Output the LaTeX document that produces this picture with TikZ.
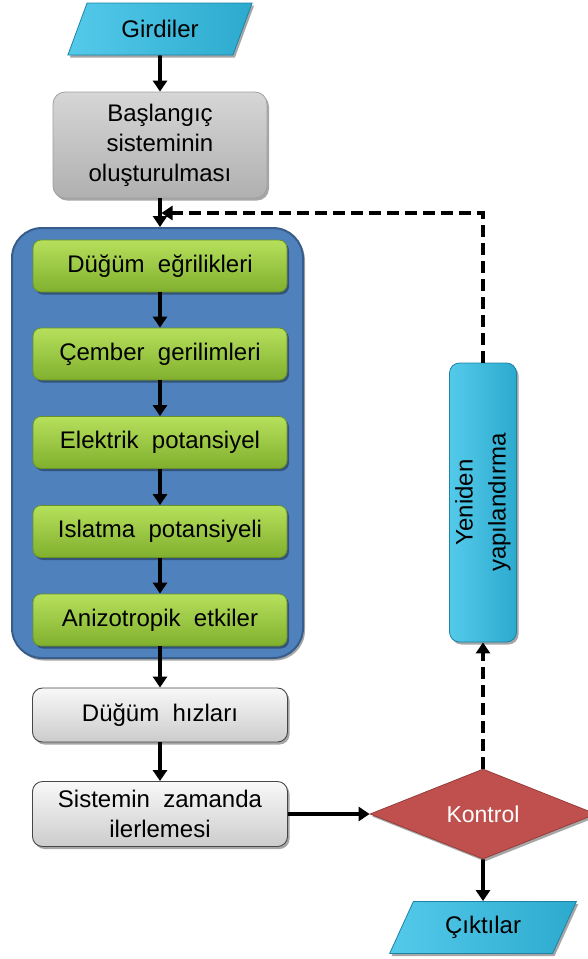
\documentclass[tikz,border=0pt]{standalone}
\usepackage{fontspec}
\setmainfont{Liberation Sans}
\usetikzlibrary{shapes.geometric,arrows.meta,shadows}
\definecolor{cyanL}{RGB}{84,202,234}
\definecolor{cyanD}{RGB}{44,170,206}
\definecolor{cyanB}{RGB}{30,130,165}
\definecolor{greenT}{RGB}{182,224,92}
\definecolor{greenB}{RGB}{128,176,46}
\definecolor{greenE}{RGB}{105,145,40}
\definecolor{blueF}{RGB}{79,129,189}
\definecolor{blueB}{RGB}{56,93,138}
\definecolor{grayT}{RGB}{214,214,214}
\definecolor{grayB}{RGB}{176,176,176}
\definecolor{grayE}{RGB}{160,160,160}
\definecolor{lgT}{RGB}{248,248,248}
\definecolor{lgB}{RGB}{204,204,204}
\definecolor{lgE}{RGB}{70,70,70}
\definecolor{redF}{RGB}{192,80,77}
\definecolor{redB}{RGB}{150,60,58}
\begin{document}
\begin{tikzpicture}[x=1pt,y=-1pt,
  font=\fontsize{24}{30}\selectfont,
  shad/.style={drop shadow={shadow xshift=2pt,shadow yshift=-2.5pt,opacity=0.35,fill=black}},
  base/.style={align=center,inner sep=0pt,text=black,shad},
  iobox/.style={base,trapezium,trapezium left angle=60,trapezium right angle=120,
    trapezium stretches=true,minimum height=52,left color=cyanL,right color=cyanD,
    draw=cyanB,line width=0.8pt},
  greenbox/.style={base,rectangle,rounded corners=8pt,minimum width=254,minimum height=52,
    top color=greenT,bottom color=greenB,draw=greenE,line width=0.8pt},
  graybox/.style={base,rectangle,rounded corners=12pt,top color=grayT,bottom color=grayB,
    draw=grayE,line width=0.8pt},
  lightbox/.style={base,rectangle,rounded corners=10pt,top color=lgT,bottom color=lgB,
    draw=lgE,line width=0.9pt},
  container/.style={rectangle,rounded corners=30pt,fill=blueF,draw=blueB,line width=2pt,shad},
  decision/.style={base,diamond,aspect=2.5,minimum width=226,minimum height=90,
    fill=redF,draw=redB,line width=0.8pt,text=white,font=\fontsize{23}{28}\selectfont},
  cyanbar/.style={base,rectangle,rounded corners=10pt,left color=cyanL,right color=cyanD,
    draw=cyanB,line width=0.8pt,minimum width=67,minimum height=279},
  arr/.style={line width=3.6pt,-{Triangle[length=11pt,width=14pt]}},
  dasharr/.style={arr,dash pattern=on 12pt off 6pt}
]
\useasboundingbox (0,0) rectangle (587,959);

% left column
\node[iobox,minimum width=185] (gir) at (160,29) {Girdiler};
\node[graybox,minimum width=214,minimum height=106] (bas) at (160,145)
  {Başlangıç\\sisteminin\\oluşturulması};
\node[container,minimum width=291,minimum height=430] (cont) at (157.5,443) {};
\node[greenbox] (g1) at (160,266) {Düğüm\ \ eğrilikleri};
\node[greenbox] (g2) at (160,354) {Çember\ \ gerilimleri};
\node[greenbox] (g3) at (160,442.5) {Elektrik\ \ potansiyel};
\node[greenbox] (g4) at (160,531.5) {Islatma\ \ potansiyeli};
\node[greenbox] (g5) at (160,620) {Anizotropik\ \ etkiler};
\node[lightbox,minimum width=255,minimum height=54] (dh) at (160,715) {Düğüm\ \ hızları};
\node[lightbox,minimum width=255,minimum height=65] (sz) at (160,814)
  {Sistemin\ \ zamanda\\ilerlemesi};

% right column
\node[decision] (kon) at (483,814) {Kontrol};
\node[iobox,minimum width=187] (cik) at (483,927.5) {Çıktılar};
\node[cyanbar] (yen) at (483,502.5) {};
\node[rotate=90,align=center,text=black,inner sep=0pt,
  font=\fontsize{24}{33}\selectfont] (yent) at (yen.center)
  {Yeniden\\yapılandırma};

% connectors
\draw[arr] (gir.south) -- (bas.north);
\draw[arr] (bas.south) -- (bas.south |- cont.north);
\draw[arr] (g1.south) -- (g2.north);
\draw[arr] (g2.south) -- (g3.north);
\draw[arr] (g3.south) -- (g4.north);
\draw[arr] (g4.south) -- (g5.north);
\draw[arr] (g5.south) -- (dh.north);
\draw[arr] (dh.south) -- (sz.north);
\draw[arr] (sz.east) -- (kon.west);
\draw[arr] (kon.south) -- (cik.north);
\draw[dasharr] (kon.north) -- (yen.south);
\coordinate (j) at (161.5,213);
\draw[dasharr] (yen.north) |- (j);
\end{tikzpicture}
\end{document}
